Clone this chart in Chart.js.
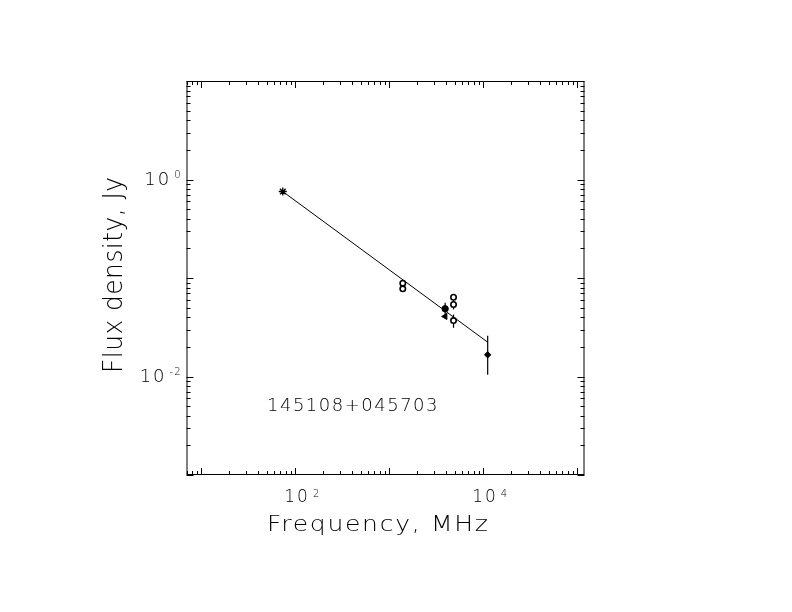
<!DOCTYPE html>
<html>
<head>
<meta charset="utf-8">
<script src="https://cdn.jsdelivr.net/npm/chart.js@4.4.1/dist/chart.umd.min.js"></script>
<style>
  html, body { margin: 0; padding: 0; background: #fff; }
  #wrap { width: 792px; height: 612px; }
</style>
</head>
<body>
<div id="wrap"><canvas id="chart" width="792" height="612"></canvas></div>
<script>
var freqStar = [74];
var fluxStar = [0.755];

var freqOpen1400 = [1400, 1400];
var fluxOpen1400 = [0.0886, 0.0777];

var freqFilled = [3950];
var fluxFilled = [0.0487];
var errFilledLo = [0.0416];
var errFilledHi = [0.056];

var freqTri = [3950];
var fluxTri = [0.0407];

var freqOpen4850 = [4850, 4850, 4850];
var fluxOpen4850 = [0.0638, 0.0538, 0.037];
var errOpen4850Lo = [0.0610, 0.0479, 0.0312];
var errOpen4850Hi = [0.0668, 0.0600, 0.0426];

var freqDiamond = [11200];
var fluxDiamond = [0.0166];
var errDiamondLo = [0.0104];
var errDiamondHi = [0.026];

// power law fit
var fitFreq = [74, 11200];
var fitFlux = [0.755, 0.0223];

// axis range and labelled decades
var xMin = 7, xMax = 120000;
var yMin = 0.001, yMax = 10;
var xTickValues = [100, 10000];
var xTickBase = ['10', '10'];
var xTickExp = ['2', '4'];
var yTickValues = [1, 0.01];
var yTickBase = ['10', '10'];
var yTickExp = ['0', '-2'];

var sourceName = '145108+045703';
var xTitle = 'Frequency, MHz';
var yTitle = 'Flux density, Jy';

function pts(xs, ys) {
  return xs.map(function (x, i) { return { x: x, y: ys[i] }; });
}

var FONT = '"DejaVu Sans", sans-serif';

function spaced(ctx, txt, x, y, spacing, align) {
  ctx.letterSpacing = spacing + 'px';
  var w = ctx.measureText(txt).width - spacing;
  var sx = x;
  if (align === 'center') sx = x - w / 2;
  if (align === 'right') sx = x - w;
  ctx.textAlign = 'left';
  ctx.fillText(txt, sx, y);
  ctx.letterSpacing = '0px';
  return w;
}

// text squeezed or stretched along its run to a given width, centred on (cx, cy)
function fitted(ctx, txt, cx, cy, width, spacing) {
  ctx.letterSpacing = spacing + 'px';
  var w = ctx.measureText(txt).width - spacing;
  var k = width / w;
  ctx.save();
  ctx.translate(cx, cy);
  ctx.scale(k, 1);
  ctx.textAlign = 'left';
  ctx.fillText(txt, -w / 2, 0);
  ctx.restore();
  ctx.letterSpacing = '0px';
}

var decor = {
  id: 'decor',
  beforeDatasetsDraw: function (chart) {
    var ctx = chart.ctx, xs = chart.scales.x, ys = chart.scales.y;
    ctx.save();
    ctx.strokeStyle = '#000';
    ctx.lineWidth = 1.2;
    function bar(fx, lo, hi) {
      for (var i = 0; i < fx.length; i++) {
        var px = xs.getPixelForValue(fx[i]);
        ctx.beginPath();
        ctx.moveTo(px, ys.getPixelForValue(lo[i]));
        ctx.lineTo(px, ys.getPixelForValue(hi[i]));
        ctx.stroke();
      }
    }
    bar(freqFilled, errFilledLo, errFilledHi);
    bar(freqOpen4850, errOpen4850Lo, errOpen4850Hi);
    bar(freqDiamond, errDiamondLo, errDiamondHi);
    ctx.restore();
  },
  afterDraw: function (chart) {
    var ctx = chart.ctx, a = chart.chartArea;
    var xs = chart.scales.x, ys = chart.scales.y;
    ctx.save();
    ctx.strokeStyle = '#000';
    ctx.fillStyle = '#000';
    ctx.lineWidth = 1;
    ctx.strokeRect(a.left + 0.5, a.top + 0.5, a.right - a.left - 1, a.bottom - a.top - 1);

    // inward ticks on all four sides
    ctx.beginPath();
    for (var e = -4; e <= 6; e++) {
      for (var m = 1; m <= 9; m++) {
        var v = m * Math.pow(10, e);
        var len = m === 1 ? 7 : 4;
        if (v >= xMin && v <= xMax) {
          var px = Math.round(xs.getPixelForValue(v)) + 0.5;
          ctx.moveTo(px, a.bottom); ctx.lineTo(px, a.bottom - len);
          ctx.moveTo(px, a.top); ctx.lineTo(px, a.top + len);
        }
        if (v >= yMin && v <= yMax) {
          var py = Math.round(ys.getPixelForValue(v)) + 0.5;
          ctx.moveTo(a.left, py); ctx.lineTo(a.left + len, py);
          ctx.moveTo(a.right, py); ctx.lineTo(a.right - len, py);
        }
      }
    }
    ctx.stroke();

    // tick labels
    ctx.textBaseline = 'middle';
    xTickValues.forEach(function (v, i) {
      var px = xs.getPixelForValue(v);
      ctx.font = '300 17px ' + FONT;
      var w = spaced(ctx, xTickBase[i], px + 1, a.bottom + 23, 2, 'center');
      ctx.font = '300 10px ' + FONT;
      spaced(ctx, xTickExp[i], px + 1 + w / 2 + 5, a.bottom + 19, 1, 'left');
    });
    yTickValues.forEach(function (v, i) {
      var py = ys.getPixelForValue(v);
      ctx.font = '300 10px ' + FONT;
      var ew = spaced(ctx, yTickExp[i], a.left - 6, py - 4, 1, 'right');
      ctx.font = '300 18px ' + FONT;
      spaced(ctx, yTickBase[i], a.left - 6 - ew - 5, py + 1, 2, 'right');
    });

    // source name
    ctx.font = '300 18px ' + FONT;
    spaced(ctx, sourceName, 267, 406, 1.5, 'left');

    // axis titles
    ctx.textBaseline = 'alphabetic';
    ctx.font = '300 22px ' + FONT;
    fitted(ctx, xTitle, 377.5, 531, 221, 1.5);
    ctx.save();
    ctx.translate(122, 275);
    ctx.rotate(-Math.PI / 2);
    ctx.font = '300 27px ' + FONT;
    fitted(ctx, yTitle, 0, 0, 196, 0.5);
    ctx.restore();
    ctx.restore();
  }
};

new Chart(document.getElementById('chart').getContext('2d'), {
  type: 'scatter',
  data: {
    datasets: [
      { data: pts(fitFreq, fitFlux), showLine: true, borderColor: '#000', borderWidth: 1,
        pointRadius: 0, fill: false },
      { data: pts(freqStar, fluxStar), pointStyle: 'star', pointRadius: 4,
        borderColor: '#000', borderWidth: 1.3, backgroundColor: '#000' },
      { data: pts(freqOpen1400, fluxOpen1400), pointStyle: 'circle', pointRadius: 2.7,
        borderColor: '#000', borderWidth: 1.6, backgroundColor: '#fff' },
      { data: pts(freqOpen4850, fluxOpen4850), pointStyle: 'circle', pointRadius: 2.7,
        borderColor: '#000', borderWidth: 1.6, backgroundColor: '#fff' },
      { data: pts(freqFilled, fluxFilled), pointStyle: 'circle', pointRadius: 3.2,
        borderColor: '#000', borderWidth: 1, backgroundColor: '#000' },
      { data: pts(freqTri, fluxTri), pointStyle: 'triangle', pointRadius: 3.5,
        borderColor: '#000', borderWidth: 1, backgroundColor: '#000', rotation: 270 },
      { data: pts(freqDiamond, fluxDiamond), pointStyle: 'rectRot', pointRadius: 3.2,
        borderColor: '#000', borderWidth: 1, backgroundColor: '#000' }
    ]
  },
  options: {
    responsive: false,
    animation: false,
    devicePixelRatio: 1,
    layout: { padding: { left: 186.5, right: 207.5, top: 81, bottom: 137 } },
    plugins: { legend: { display: false }, tooltip: { enabled: false } },
    scales: {
      x: { type: 'logarithmic', min: xMin, max: xMax, display: false },
      y: { type: 'logarithmic', min: yMin, max: yMax, display: false }
    }
  },
  plugins: [decor]
});
</script>
</body>
</html>
